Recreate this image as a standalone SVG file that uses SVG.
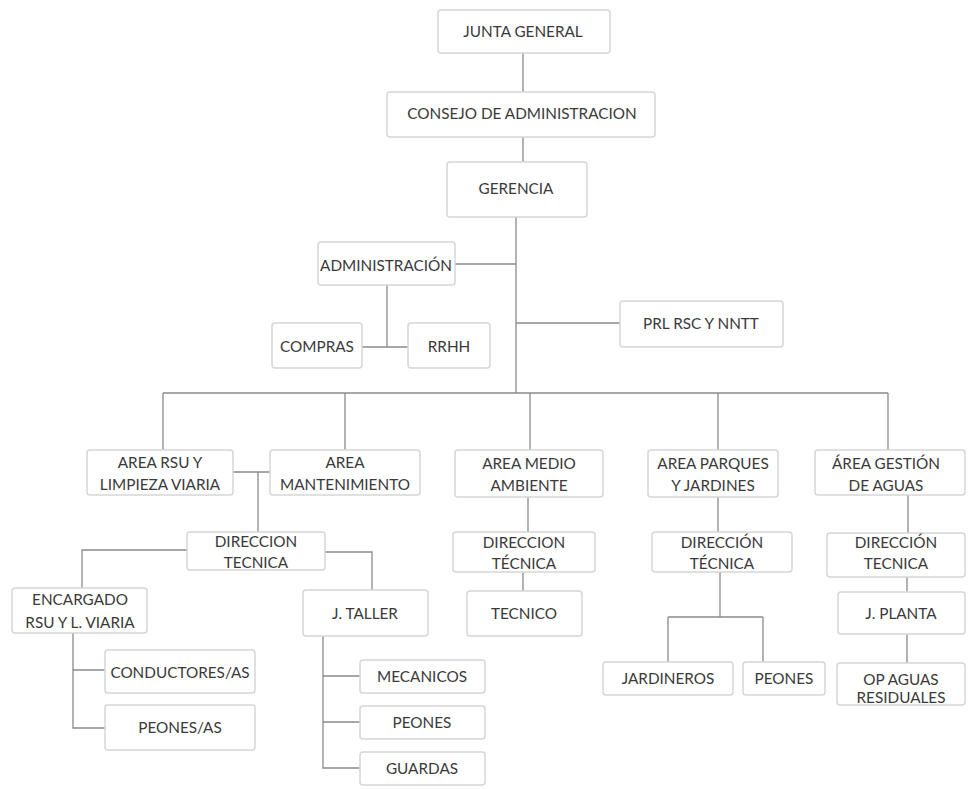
<svg xmlns="http://www.w3.org/2000/svg" width="969" height="789" viewBox="0 0 969 789">
<style>
.b{fill:#fff;stroke:#d6d6d6;stroke-width:1.5}
.t{font-family:Lato,"Open Sans","Liberation Sans",sans-serif;font-size:15.3px;fill:#3a3a3a;text-anchor:middle}
.c{fill:none;stroke:#8a8a8a;stroke-width:1.3}
</style>
<rect width="969" height="789" fill="#fff"/>
<g id="connectors" class="c">
<path d="M523 53V92M523 137V162M516 217V393M455 264H516M387 285V347M362 347H408M516 323H620"/>
<path d="M163 393H888M163 393V450M345 393V450M530 393V450M718 393V450M888 393V450"/>
<path d="M233 472H270M258 472V532M187 550H82V588M325 552H372V590"/>
<path d="M73 633V728H105M73 670H105M323 636V768H360M323 676H360M323 722H360"/>
<path d="M528 497V532M523 572V591M718 497V532M720 572V617M668 617H763M668 617V662M763 617V662"/>
<path d="M908 493V533M907 577V592M907 634V663"/>
</g>
<g id="junta"><rect class="b" x="438" y="10" width="172" height="43" rx="3"/><text class="t" x="523" y="37">JUNTA GENERAL</text></g>
<g id="consejo"><rect class="b" x="387" y="92" width="268" height="45" rx="3"/><text class="t" x="522" y="119">CONSEJO DE ADMINISTRACION</text></g>
<g id="gerencia"><rect class="b" x="447" y="162" width="140" height="55" rx="3"/><text class="t" x="516" y="194">GERENCIA</text></g>
<g id="administracion"><rect class="b" x="318" y="242" width="137" height="43" rx="3"/><text class="t" x="386" y="271">ADMINISTRACIÓN</text></g>
<g id="compras"><rect class="b" x="272" y="323" width="90" height="45" rx="3"/><text class="t" x="317" y="352">COMPRAS</text></g>
<g id="rrhh"><rect class="b" x="408" y="323" width="82" height="45" rx="3"/><text class="t" x="449" y="352">RRHH</text></g>
<g id="prl"><rect class="b" x="620" y="301" width="163" height="46" rx="3"/><text class="t" x="701" y="329">PRL RSC Y NNTT</text></g>
<g id="area_rsu"><rect class="b" x="87" y="450" width="146" height="45" rx="3"/><text class="t" x="160" y="468">AREA RSU Y</text><text class="t" x="160" y="490">LIMPIEZA VIARIA</text></g>
<g id="area_mant"><rect class="b" x="270" y="450" width="150" height="45" rx="3"/><text class="t" x="345" y="468">AREA</text><text class="t" x="345" y="490">MANTENIMIENTO</text></g>
<g id="area_medio"><rect class="b" x="455" y="450" width="148" height="47" rx="3"/><text class="t" x="529" y="469">AREA MEDIO</text><text class="t" x="529" y="491">AMBIENTE</text></g>
<g id="area_parques"><rect class="b" x="648" y="450" width="130" height="47" rx="3"/><text class="t" x="713" y="469">AREA PARQUES</text><text class="t" x="713" y="491">Y JARDINES</text></g>
<g id="area_aguas"><rect class="b" x="815" y="450" width="150" height="45" rx="3"/><text class="t" x="886" y="469">ÁREA GESTIÓN</text><text class="t" x="886" y="491">DE AGUAS</text></g>
<g id="dt_mant"><rect class="b" x="187" y="532" width="138" height="38" rx="3"/><text class="t" x="256" y="547">DIRECCION</text><text class="t" x="256" y="568">TECNICA</text></g>
<g id="encargado"><rect class="b" x="12" y="588" width="135" height="45" rx="3"/><text class="t" x="80" y="605">ENCARGADO</text><text class="t" x="80" y="628">RSU Y L. VIARIA</text></g>
<g id="conductores"><rect class="b" x="105" y="650" width="150" height="43" rx="3"/><text class="t" x="180" y="678">CONDUCTORES/AS</text></g>
<g id="peones_as"><rect class="b" x="105" y="705" width="150" height="45" rx="3"/><text class="t" x="180" y="733">PEONES/AS</text></g>
<g id="jtaller"><rect class="b" x="303" y="590" width="125" height="46" rx="3"/><text class="t" x="365" y="619">J. TALLER</text></g>
<g id="mecanicos"><rect class="b" x="360" y="660" width="125" height="33" rx="3"/><text class="t" x="422" y="682">MECANICOS</text></g>
<g id="peones_taller"><rect class="b" x="360" y="706" width="125" height="33" rx="3"/><text class="t" x="422" y="728">PEONES</text></g>
<g id="guardas"><rect class="b" x="360" y="752" width="125" height="33" rx="3"/><text class="t" x="422" y="774">GUARDAS</text></g>
<g id="dt_medio"><rect class="b" x="453" y="532" width="142" height="40" rx="3"/><text class="t" x="524" y="548">DIRECCION</text><text class="t" x="524" y="569">TÉCNICA</text></g>
<g id="tecnico"><rect class="b" x="467" y="591" width="115" height="45" rx="3"/><text class="t" x="524" y="619">TECNICO</text></g>
<g id="dt_parques"><rect class="b" x="652" y="532" width="140" height="40" rx="3"/><text class="t" x="722" y="548">DIRECCIÓN</text><text class="t" x="722" y="569">TÉCNICA</text></g>
<g id="jardineros"><rect class="b" x="603" y="662" width="130" height="33" rx="3"/><text class="t" x="668" y="684">JARDINEROS</text></g>
<g id="peones_parques"><rect class="b" x="743" y="662" width="82" height="33" rx="3"/><text class="t" x="784" y="684">PEONES</text></g>
<g id="dt_aguas"><rect class="b" x="827" y="533" width="138" height="44" rx="3"/><text class="t" x="896" y="548">DIRECCIÓN</text><text class="t" x="896" y="569">TECNICA</text></g>
<g id="jplanta"><rect class="b" x="838" y="592" width="127" height="42" rx="3"/><text class="t" x="901" y="619">J. PLANTA</text></g>
<g id="opaguas"><rect class="b" x="837" y="663" width="128" height="42" rx="3"/><text class="t" x="901" y="685">OP AGUAS</text><text class="t" x="901" y="703">RESIDUALES</text></g>
</svg>
